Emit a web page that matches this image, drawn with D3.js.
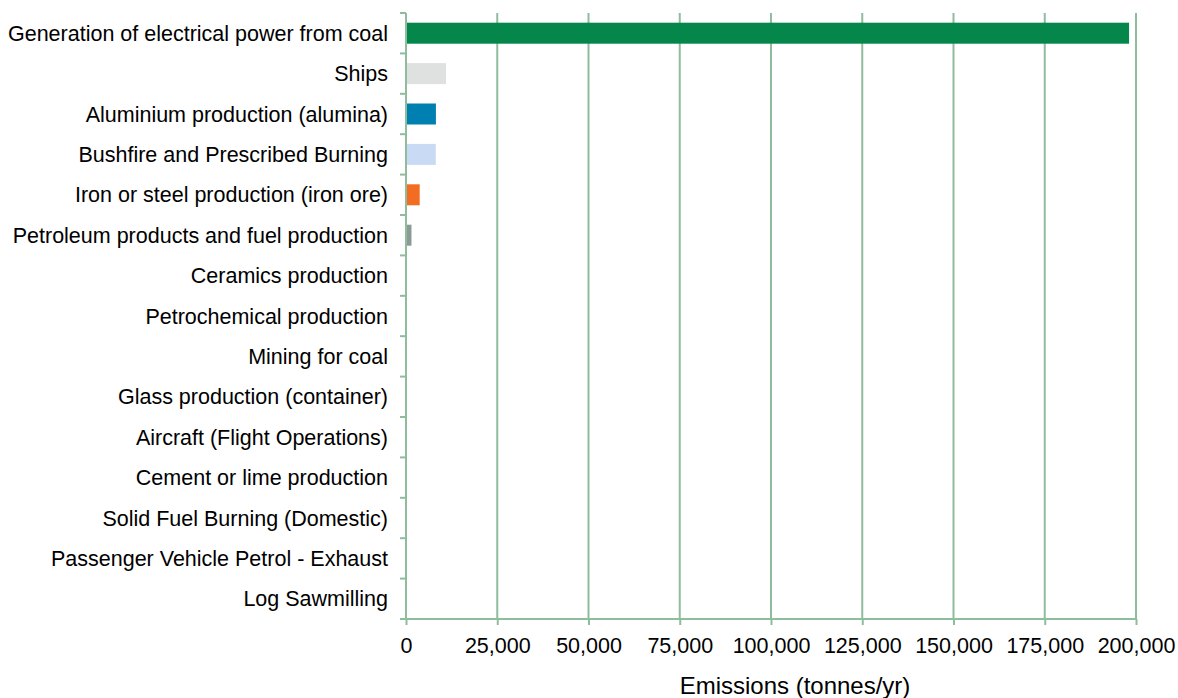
<!DOCTYPE html>
<html lang="en">
<head>
    <meta charset="UTF-8">
    <title>Emissions by source</title>
    <script src="https://d3js.org/d3.v7.min.js"></script>
    <style>
        body {
            margin: 0;
            background: #ffffff;
            font-family: "Liberation Sans", Arial, sans-serif;
        }
        .tick text {
            fill: #000;
        }
    </style>
</head>
<body>
    <svg id="chart" width="1178" height="698"></svg>

    <script>
        const width = 1178;
        const height = 698;
        const margin = { top: 13, right: 42, bottom: 79, left: 406 };

        // Data
        const sources = [
            "Generation of electrical power from coal",
            "Ships",
            "Aluminium production (alumina)",
            "Bushfire and Prescribed Burning",
            "Iron or steel production (iron ore)",
            "Petroleum products and fuel production",
            "Ceramics production",
            "Petrochemical production",
            "Mining for coal",
            "Glass production (container)",
            "Aircraft (Flight Operations)",
            "Cement or lime production",
            "Solid Fuel Burning (Domestic)",
            "Passenger Vehicle Petrol - Exhaust",
            "Log Sawmilling"
        ];
        const emissions = [198100, 10950, 8200, 8150, 3750, 1500, 60, 50, 40, 30, 25, 20, 15, 10, 5];
        const barColors = ["#05874b", "#dfe0e0", "#0080b1", "#c9daf5", "#f26d21", "#8d9a94",
                           "#d9d9d9", "#d9d9d9", "#d9d9d9", "#d9d9d9", "#d9d9d9", "#d9d9d9", "#d9d9d9", "#d9d9d9", "#d9d9d9"];
        const xTicks = [0, 25000, 50000, 75000, 100000, 125000, 150000, 175000, 200000];
        const xTitle = "Emissions (tonnes/yr)";

        const gridColor = "#8fbc9c";
        const labelSize = "21.5px";

        const svg = d3.select("#chart");

        const x = d3.scaleLinear()
            .domain([0, 200000])
            .range([margin.left, width - margin.right]);

        const y = d3.scaleBand()
            .domain(sources)
            .range([margin.top, height - margin.bottom])
            .paddingInner(0.48)
            .paddingOuter(0.24);

        const plotTop = margin.top;
        const plotBottom = height - margin.bottom;

        // vertical gridlines
        svg.append("g")
            .selectAll("line")
            .data(xTicks.slice(1))
            .enter().append("line")
            .attr("x1", d => x(d))
            .attr("x2", d => x(d))
            .attr("y1", plotTop)
            .attr("y2", plotBottom)
            .attr("stroke", gridColor)
            .attr("stroke-width", 2);

        // bars
        svg.append("g")
            .selectAll("rect")
            .data(sources)
            .enter().append("rect")
            .attr("x", x(0))
            .attr("y", d => y(d))
            .attr("width", (d, i) => Math.max(0, x(emissions[i]) - x(0)))
            .attr("height", y.bandwidth())
            .attr("fill", (d, i) => barColors[i]);

        // x axis
        const xAxis = svg.append("g")
            .attr("transform", `translate(0,${plotBottom})`)
            .call(d3.axisBottom(x)
                .tickValues(xTicks)
                .tickFormat(d3.format(","))
                .tickSize(6)
                .tickPadding(13)
                .tickSizeOuter(0));
        xAxis.select(".domain")
            .attr("stroke", gridColor)
            .attr("stroke-width", 2)
            .attr("d", `M${x(0) - 6},0H${x(200000)}`);
        xAxis.selectAll(".tick line").attr("stroke", gridColor).attr("stroke-width", 2);
        xAxis.selectAll(".tick text")
            .style("font-family", "'Liberation Sans', Arial, sans-serif")
            .style("font-size", labelSize);

        // y axis: ticks at band boundaries
        const boundaries = d3.range(sources.length + 1).map(i => plotTop + i * (plotBottom - plotTop) / sources.length);

        const yAxis = svg.append("g");
        yAxis.append("line")
            .attr("x1", x(0)).attr("x2", x(0))
            .attr("y1", plotTop).attr("y2", plotBottom)
            .attr("stroke", gridColor)
            .attr("stroke-width", 2);
        yAxis.selectAll(".ytick")
            .data(boundaries)
            .enter().append("line")
            .attr("class", "ytick")
            .attr("x1", x(0) - 6).attr("x2", x(0))
            .attr("y1", d => d).attr("y2", d => d)
            .attr("stroke", gridColor)
            .attr("stroke-width", 2);

        yAxis.selectAll("text")
            .data(sources)
            .enter().append("text")
            .attr("x", x(0) - 18)
            .attr("y", d => y(d) + y.bandwidth() / 2)
            .attr("dy", "0.35em")
            .attr("text-anchor", "end")
            .style("font-size", labelSize)
            .attr("fill", "#000")
            .text(d => d);

        // axis title
        svg.append("text")
            .attr("x", 795)
            .attr("y", 694)
            .attr("text-anchor", "middle")
            .style("font-size", "24px")
            .attr("fill", "#000")
            .text(xTitle);
    </script>
</body>
</html>
